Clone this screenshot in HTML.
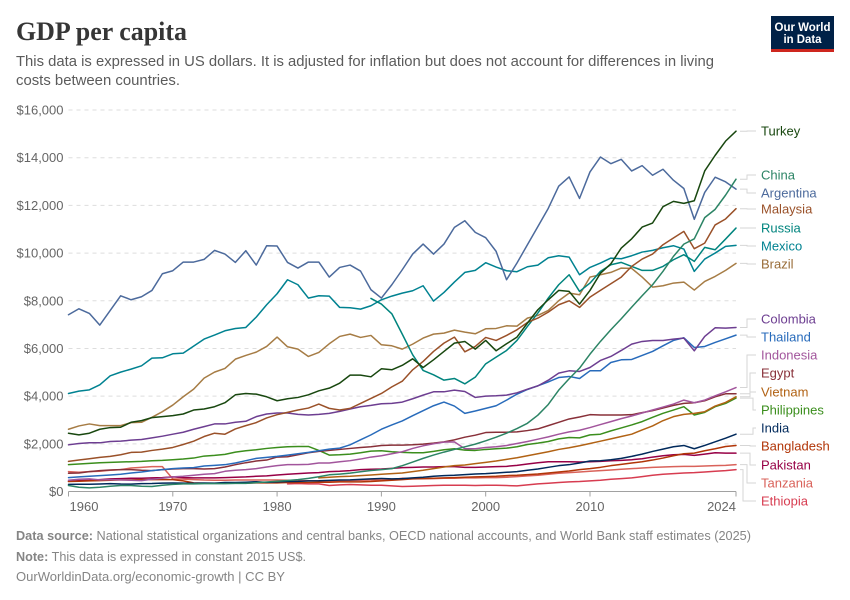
<!DOCTYPE html>
<html lang="en">
<head>
<meta charset="utf-8">
<title>GDP per capita</title>
<style>
html,body{margin:0;padding:0;background:#fff;}
svg{display:block;font-family:"Liberation Sans",sans-serif;}
</style>
</head>
<body>
<svg id="chart" width="850" height="600" viewBox="0 0 850 600" xmlns="http://www.w3.org/2000/svg">
  <rect x="0" y="0" width="850" height="600" fill="#fff"/>
  <text x="16" y="40" font-family="'Liberation Serif',serif" font-size="26" font-weight="700" fill="#363636" textLength="171" lengthAdjust="spacingAndGlyphs">GDP per capita</text>
  <text x="16" y="66" font-size="14.5" fill="#5b5b5b" textLength="698" lengthAdjust="spacingAndGlyphs">This data is expressed in US dollars. It is adjusted for inflation but does not account for differences in living</text>
  <text x="16" y="85" font-size="14.5" fill="#5b5b5b" textLength="164" lengthAdjust="spacingAndGlyphs">costs between countries.</text>
  <g>
    <rect x="771" y="16" width="63" height="36" fill="#002147"/>
    <rect x="771" y="49" width="63" height="3" fill="#ce261e"/>
    <text x="802.5" y="31" text-anchor="middle" font-size="12" font-weight="700" fill="#fff" textLength="56" lengthAdjust="spacingAndGlyphs">Our World</text>
    <text x="802.5" y="43" text-anchor="middle" font-size="12" font-weight="700" fill="#fff" textLength="38" lengthAdjust="spacingAndGlyphs">in Data</text>
  </g>
  <g id="grid"></g>
  <g id="xaxis"></g>
  <g id="lines"></g>
  <g id="legend"></g>
  <text x="16" y="540" font-size="12.5" fill="#858585" textLength="735" lengthAdjust="spacingAndGlyphs"><tspan font-weight="700">Data source:</tspan> National statistical organizations and central banks, OECD national accounts, and World Bank staff estimates (2025)</text>
  <text x="16" y="561" font-size="12.5" fill="#858585" textLength="290" lengthAdjust="spacingAndGlyphs"><tspan font-weight="700">Note:</tspan> This data is expressed in constant 2015 US$.</text>
  <text x="16" y="581" font-size="12.5" fill="#858585" textLength="269" lengthAdjust="spacingAndGlyphs">OurWorldinData.org/economic-growth | CC BY</text>
</svg>
<script>
const yTicks = [0, 2000, 4000, 6000, 8000, 10000, 12000, 14000, 16000];
const xTicks = [1960, 1970, 1980, 1990, 2000, 2010, 2024];

const turkey = [2445,2375,2445,2611,2681,2695,2903,2973,3098,3139,3181,3250,3417,3459,3556,3723,4056,4111,4083,3973,3806,3890,3945,4056,4222,4334,4544,4880,4880,4810,5146,5104,5290,5565,5201,5523,5873,6223,6293,5971,6335,5901,6195,6475,7062,7622,8041,8433,8391,7860,8433,9150,9550,10210,10600,11090,11260,11944,12167,12083,12194,13444,14097,14694,15111];
const china = [250,180,150,180,220,250,250,220,210,260,300,320,320,330,330,330,340,340,370,400,430,460,500,550,620,700,730,770,830,880,917,960,1083,1236,1389,1528,1653,1764,1875,1986,2125,2278,2445,2639,2861,3200,3650,4250,4730,5173,5761,6293,6782,7244,7734,8209,8671,9236,9861,10375,10597,11486,11833,12430,13097];
const argentina = [7412,7664,7468,6978,7594,8209,8041,8167,8433,9133,9259,9622,9622,9734,10112,9958,9608,10098,9496,10308,10294,9608,9370,9622,9622,8993,9398,9496,9245,8461,8111,8671,9300,9958,10378,9958,10378,11077,11357,10867,10644,10070,8881,9583,10347,11111,11875,12805,13194,12292,13403,14028,13750,13930,13444,13667,13264,13514,13055,12708,11416,12542,13180,12986,12680];
const malaysia = [1264,1320,1375,1431,1472,1542,1639,1653,1722,1778,1847,1972,2111,2306,2445,2403,2625,2764,2889,3084,3222,3320,3417,3500,3667,3486,3417,3486,3695,3903,4111,4389,4625,5104,5454,5873,6223,6475,5859,6083,6461,6335,6545,6782,7090,7272,7524,7832,7999,7720,8153,8433,8713,8993,9440,9748,9958,10350,10630,10910,10182,10416,11180,11430,11861];
const russia = [8097,7860,7454,6600,5733,5076,4894,4670,4740,4516,4796,5355,5635,5915,6335,6922,7482,8111,8671,9091,8391,8741,9231,9510,9608,9440,9273,9273,9440,9720,9930,9650,10238,10140,10587,11049];
const mexico = [4111,4209,4264,4474,4852,5006,5132,5271,5593,5607,5775,5803,6097,6391,6559,6740,6838,6880,7314,7832,8293,8881,8671,8111,8209,8195,7720,7706,7650,7790,8041,8195,8321,8419,8629,7985,8349,8783,9189,9273,9594,9412,9259,9217,9426,9496,9804,9888,9832,9091,9398,9580,9790,9762,9888,10042,10112,10224,10308,10168,9231,9748,10000,10280,10322];
const brazil = [2611,2750,2834,2764,2764,2764,2889,2903,3111,3347,3625,3973,4292,4754,5006,5160,5551,5705,5845,6083,6475,6069,5971,5663,5831,6195,6503,6600,6461,6545,6153,6111,5971,6181,6433,6600,6642,6768,6684,6614,6824,6838,6950,6936,7272,7384,7594,8000,8321,8251,8993,9091,9189,9370,9356,8993,8573,8629,8741,8783,8447,8811,9021,9273,9566];
const colombia = [1958,2014,2042,2042,2097,2111,2153,2181,2250,2320,2403,2486,2611,2722,2834,2834,2903,2945,3139,3250,3292,3292,3236,3208,3236,3278,3361,3459,3556,3611,3681,3695,3750,3889,4042,4181,4181,4250,4195,3945,4000,4014,4042,4139,4292,4431,4667,4964,5062,5034,5201,5495,5663,5915,6181,6293,6335,6335,6391,6433,5901,6503,6866,6852,6880];
const thailand = [583,611,639,667,694,722,778,819,875,917,958,986,1000,1069,1097,1125,1194,1292,1389,1431,1472,1528,1583,1639,1708,1778,1820,1958,2167,2375,2611,2792,2959,3181,3389,3597,3750,3583,3278,3375,3486,3597,3833,4083,4278,4431,4597,4780,4825,4740,5062,5062,5411,5523,5537,5705,5873,6111,6335,6447,6041,6083,6251,6405,6558];
const indonesia = [472,514,528,486,500,486,472,458,514,556,611,639,681,722,750,847,889,917,958,1028,1083,1125,1125,1139,1194,1194,1250,1292,1361,1444,1500,1583,1667,1806,1917,2000,2069,2083,1792,1792,1847,1875,1931,2014,2097,2194,2292,2403,2500,2570,2681,2806,2931,3056,3167,3292,3417,3542,3667,3833,3722,3833,4014,4181,4361];
const egypt = [764,778,833,875,903,917,917,889,875,917,944,958,958,944,958,1028,1125,1208,1278,1319,1444,1458,1542,1625,1681,1722,1764,1806,1847,1875,1931,1944,1944,1958,1986,2028,2083,2167,2278,2361,2472,2486,2486,2500,2556,2625,2764,2903,3042,3125,3222,3208,3208,3208,3222,3306,3389,3500,3611,3695,3722,3806,3972,4097,4097];
const vietnam = [570,597,625,639,667,694,722,750,778,833,889,958,1028,1083,1111,1167,1222,1278,1347,1417,1500,1583,1667,1764,1833,1917,2014,2111,2208,2306,2403,2583,2750,2972,3139,3236,3278,3347,3583,3736,3972];
const philippines = [1125,1153,1181,1208,1222,1236,1250,1264,1292,1306,1333,1361,1403,1486,1514,1556,1653,1708,1750,1806,1847,1875,1889,1889,1722,1528,1542,1569,1625,1694,1708,1667,1640,1625,1625,1681,1750,1792,1736,1722,1764,1792,1819,1875,1972,2028,2097,2208,2264,2250,2375,2403,2542,2667,2792,2931,3111,3278,3417,3556,3208,3319,3556,3695,3917];
const india = [300,305,305,315,330,315,310,330,335,350,355,350,345,355,350,375,375,390,410,385,405,420,425,445,450,465,480,490,510,530,545,530,542,569,597,639,667,681,708,736,750,778,806,833,889,944,1014,1083,1125,1194,1278,1292,1333,1389,1472,1569,1681,1778,1875,1931,1792,1931,2083,2236,2403];
const bangladesh = [417,430,444,458,472,486,486,500,500,500,500,444,361,347,347,347,347,347,361,361,361,375,375,375,389,389,403,403,403,417,444,472,500,528,542,556,569,583,597,611,625,639,667,681,708,736,778,819,861,917,958,1014,1083,1139,1194,1250,1319,1403,1500,1583,1611,1708,1792,1889,1931];
const pakistan = [430,458,472,500,528,542,556,556,569,583,611,583,569,569,569,583,597,611,639,653,694,722,750,778,792,833,847,875,917,931,944,972,1000,1014,1028,1028,1042,1042,1014,1014,1028,1042,1056,1097,1153,1208,1250,1250,1250,1236,1250,1264,1292,1306,1333,1375,1444,1500,1542,1556,1514,1569,1625,1611,1611];
const tanzania = [833,806,833,847,889,917,986,1014,1042,1042,528,520,500,480,470,470,480,480,480,480,480,470,460,450,450,450,450,460,470,480,490,500,556,542,542,542,556,556,569,569,583,583,597,625,653,681,722,764,792,819,847,875,903,931,958,986,1014,1028,1042,1056,1056,1069,1083,1097,1125];
const ethiopia = [319,333,319,319,250,278,292,278,264,264,236,208,222,236,250,264,264,264,250,264,264,250,236,278,319,347,375,403,417,444,472,514,542,569,625,681,722,750,778,792,819,847,875,917];

const seriesNames = ["Ethiopia","Tanzania","Pakistan","Bangladesh","India","Philippines","Vietnam","Egypt","Indonesia","Thailand","Colombia","Brazil","Mexico","Russia","Malaysia","Argentina","China","Turkey"];
const seriesValues = [ethiopia,tanzania,pakistan,bangladesh,india,philippines,vietnam,egypt,indonesia,thailand,colombia,brazil,mexico,russia,malaysia,argentina,china,turkey];
const seriesFirstYears = [1981,1960,1960,1960,1960,1960,1984,1960,1960,1960,1960,1960,1960,1989,1960,1960,1960,1960];

const seriesStyle = {
  Turkey:      {color:"#18470F", label:"#18470F", slotY:131, elbow:747},
  China:       {color:"#2C8465", label:"#2C8465", slotY:175, elbow:747},
  Argentina:   {color:"#4C6A9C", label:"#4C6A9C", slotY:193, elbow:747},
  Malaysia:    {color:"#9A5129", label:"#9A5129", slotY:209, elbow:747},
  Russia:      {color:"#00847E", label:"#00847E", slotY:228, elbow:747},
  Mexico:      {color:"#008291", label:"#008291", slotY:246, elbow:747},
  Brazil:      {color:"#A67C45", label:"#996D39", slotY:264, elbow:747},
  Colombia:    {color:"#6D3E91", label:"#6D3E91", slotY:319, elbow:747},
  Thailand:    {color:"#286BBB", label:"#286BBB", slotY:337, elbow:747},
  Indonesia:   {color:"#A2559C", label:"#A2559C", slotY:355, elbow:747},
  Egypt:       {color:"#883039", label:"#883039", slotY:373, elbow:750},
  Vietnam:     {color:"#B16214", label:"#B16214", slotY:392, elbow:750},
  Philippines: {color:"#3B8E1D", label:"#3B8E1D", slotY:410, elbow:753},
  India:       {color:"#00295B", label:"#00295B", slotY:428, elbow:753},
  Bangladesh:  {color:"#B13507", label:"#B13507", slotY:446, elbow:750},
  Pakistan:    {color:"#970046", label:"#970046", slotY:465, elbow:750},
  Tanzania:    {color:"#D9625A", label:"#D9625A", slotY:483, elbow:747},
  Ethiopia:    {color:"#D73C50", label:"#D73C50", slotY:501, elbow:743}
};

const SVGNS = "http://www.w3.org/2000/svg";
const X0 = 68.5, X1 = 736, Y0 = 491.5, Y1 = 110;
function xScale(year){ return X0 + (year - 1960) * (X1 - X0) / 64; }
function yScale(value){ return Y0 - value * (Y0 - Y1) / 16000; }
function formatDollars(v){ return "$" + v.toLocaleString("en-US"); }
function make(tag, parent, attrs){
  const el = document.createElementNS(SVGNS, tag);
  for (const k in attrs) el.setAttribute(k, attrs[k]);
  parent.appendChild(el);
  return el;
}
function slug(s){ return s.toLowerCase(); }

const gridG = document.getElementById("grid");
yTicks.forEach(function(t){
  if (t > 0) {
    const line = make("line", gridG, {x1:X0, x2:X1, y1:yScale(t), y2:yScale(t), stroke:"#dddddd", "stroke-dasharray":"4 4", "stroke-width":1});
    
    
  }
  const label = make("text", gridG, {x:63.5, y:yScale(t) + 4.5, "text-anchor":"end", "font-size":13, fill:"#666666"});
  label.textContent = formatDollars(t);
  
  
});

const xG = document.getElementById("xaxis");
const axisLine = make("line", xG, {x1:X0, x2:X1, y1:Y0, y2:Y0, stroke:"#a1a1a1", "stroke-width":1});


xTicks.forEach(function(t, i){
  const tick = make("line", xG, {x1:xScale(t), x2:xScale(t), y1:Y0, y2:Y0 + 5, stroke:"#a1a1a1", "stroke-width":1});
  
  
  const first = i === 0, last = i === xTicks.length - 1;
  const label = make("text", xG, {
    x: first ? xScale(t) + 1 : xScale(t),
    y: 511,
    "text-anchor": first ? "start" : (last ? "end" : "middle"),
    "font-size": 13,
    fill: "#666666"
  });
  label.textContent = String(t);
  
  
});

const linesG = document.getElementById("lines");
const legendG = document.getElementById("legend");
seriesNames.forEach(function(name, i){
  const values = seriesValues[i];
  const first = seriesFirstYears[i];
  const style = seriesStyle[name];
  const pts = values.map(function(v, j){ return xScale(first + j).toFixed(2) + "," + yScale(v).toFixed(2); }).join(" ");
  const line = make("polyline", linesG, {points:pts, fill:"none", stroke:style.color, "stroke-width":1.5, "stroke-linejoin":"round", "stroke-linecap":"round"});
  
  

  const endY = yScale(values[values.length - 1]);
  const conn = make("polyline", legendG, {
    points: "740," + endY.toFixed(2) + " " + style.elbow + "," + endY.toFixed(2) + " " + style.elbow + "," + style.slotY + " 756," + style.slotY,
    fill:"none", stroke:"#d6d6d6", "stroke-width":1
  });
  
  

  const label = make("text", legendG, {x:761, y:style.slotY + 4.5, "font-size":13, fill:style.label});
  label.textContent = name;
  
  
});
</script>
</body>
</html>
